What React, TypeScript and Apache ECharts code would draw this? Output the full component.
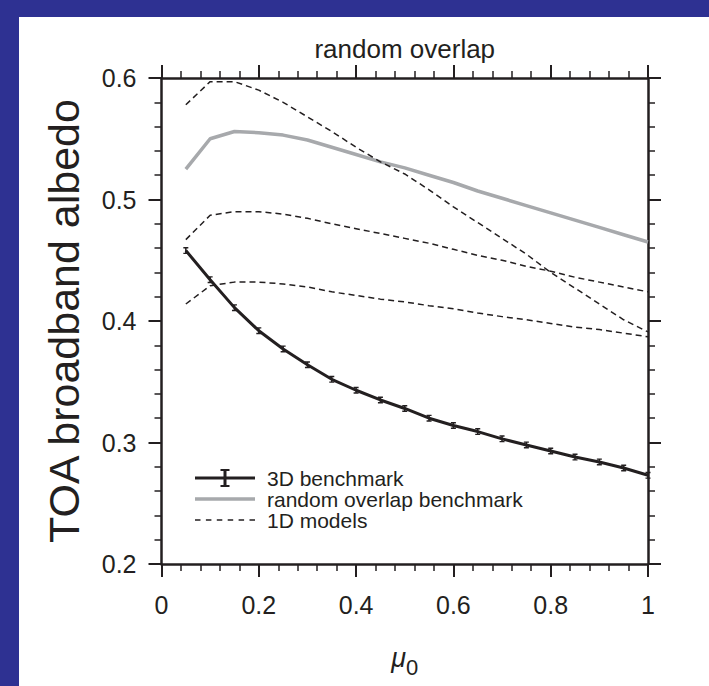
import React, { useEffect, useRef } from "react";
import * as echarts from "echarts";

// ---- data ----
const mu0 = [0.05, 0.1, 0.15, 0.2, 0.25, 0.3, 0.35, 0.4, 0.45, 0.5, 0.55, 0.6, 0.65, 0.7, 0.75, 0.8, 0.85, 0.9, 0.95, 1.0];
const bench3D = [0.458, 0.434, 0.411, 0.392, 0.377, 0.364, 0.352, 0.343, 0.335, 0.328, 0.32, 0.314, 0.309, 0.303, 0.298, 0.293, 0.288, 0.284, 0.279, 0.273];
const randomOverlapBench = [0.525, 0.55, 0.556, 0.555, 0.553, 0.549, 0.543, 0.537, 0.531, 0.526, 0.52, 0.514, 0.507, 0.501, 0.495, 0.489, 0.483, 0.477, 0.471, 0.465];
const model1D_a = [0.578, 0.597, 0.597, 0.59, 0.58, 0.568, 0.556, 0.543, 0.531, 0.521, 0.508, 0.494, 0.481, 0.468, 0.455, 0.44, 0.427, 0.414, 0.401, 0.391];
const model1D_b = [0.467, 0.487, 0.49, 0.49, 0.488, 0.4845, 0.48, 0.476, 0.472, 0.468, 0.464, 0.459, 0.454, 0.45, 0.445, 0.441, 0.436, 0.432, 0.428, 0.424];
const model1D_c = [0.414, 0.429, 0.432, 0.432, 0.4305, 0.428, 0.424, 0.421, 0.418, 0.4157, 0.4126, 0.41, 0.4066, 0.4036, 0.401, 0.398, 0.395, 0.393, 0.39, 0.387];

const xTicks = { min: 0, max: 1, interval: 0.2 };
const yTicks = { min: 0.2, max: 0.6, interval: 0.1 };
const titleText = "random overlap";
const yName = "TOA broadband albedo";
const legendNames = ["3D benchmark", "random overlap benchmark", "1D models"];

// ---- styles ----
const INK = "#231f20";
const GREY = "#a7a9ac";
const BLUE = "#2e3192";
const FONT = "'Liberation Sans', Arial, Helvetica, sans-serif";

const pair = (xs: number[], ys: number[]) => xs.map((x, i) => [x, ys[i]]);

// legend icons (67 x 18 box; drawn part 0..60, corner specks keep the box)
const specks = "M0,0H0.01V0.01H0ZM66.99,17.99H67V18H66.99Z";
const ICON_3D =
  "path://" +
  specks +
  "M0,7.5H28.5V2H25.5V0H34.5V2H31.5V7.5H60V10.5H31.5V16H34.5V18H25.5V16H28.5V10.5H0Z";
const ICON_RO = "path://" + specks + "M0,7.3H60V10.7H0Z";
const ICON_1D =
  "path://" +
  specks +
  [0, 1, 2, 3, 4, 5].map((i) => `M${i * 10.9},8.25H${i * 10.9 + 5.5}V9.75H${i * 10.9}Z`).join("");

const IBEAM = "path://M0,0H6V1.6H3.9V6.4H6V8H0V6.4H2.1V1.6H0Z";

const axisCommon = {
  axisLine: { show: true, onZero: false, lineStyle: { color: INK, width: 2.5 } },
  axisTick: { show: true, inside: false, length: 13, lineStyle: { color: INK, width: 2 } },
  minorTick: { show: true, splitNumber: 5, length: 7, lineStyle: { color: INK, width: 1.5 } },
  splitLine: { show: false },
  minorSplitLine: { show: false },
};

export default function App() {
  const ref = useRef<HTMLDivElement>(null);
  useEffect(() => {
    const chart = echarts.init(ref.current!, null, { renderer: "svg" });
    const option: any = {
      animation: false,
      backgroundColor: "#ffffff",
      textStyle: { fontFamily: FONT, color: INK },
      graphic: [
        { type: "rect", left: 0, top: 0, z: -10, silent: true, shape: { width: 19, height: 686 }, style: { fill: BLUE } },
        { type: "rect", left: 0, top: 0, z: -10, silent: true, shape: { width: 709, height: 17 }, style: { fill: BLUE } },
      ],
      grid: { left: 161.5, right: 61, top: 78, bottom: 122, containLabel: false },
      xAxis: [
        {
          type: "value",
          position: "bottom",
          ...xTicks,
          ...axisCommon,
          axisLabel: { fontSize: 25, color: INK, margin: 28, fontFamily: FONT },
          name: "{mu|μ}{sub|0}",
          nameLocation: "middle",
          nameGap: 80,
          nameTextStyle: {
            rich: {
              mu: { fontSize: 27, fontStyle: "italic", color: INK, fontFamily: FONT, verticalAlign: "top", lineHeight: 34 },
              sub: { fontSize: 22, color: INK, fontFamily: FONT, verticalAlign: "bottom", lineHeight: 34 },
            },
          },
        },
        {
          type: "value",
          position: "top",
          ...xTicks,
          ...axisCommon,
          axisLabel: { show: false },
          name: titleText,
          nameLocation: "middle",
          nameGap: 16,
          nameTextStyle: { fontSize: 26, color: INK, fontFamily: FONT },
        },
      ],
      yAxis: [
        {
          type: "value",
          position: "left",
          ...yTicks,
          ...axisCommon,
          axisLabel: { fontSize: 25, color: INK, margin: 25, fontFamily: FONT },
          name: yName,
          nameLocation: "middle",
          nameGap: 76,
          nameTextStyle: { fontSize: 43, color: INK, fontFamily: FONT, lineHeight: 43 },
        },
        {
          type: "value",
          position: "right",
          ...yTicks,
          ...axisCommon,
          axisLabel: { show: false },
        },
      ],
      legend: {
        orient: "vertical",
        left: 190,
        top: 461,
        itemWidth: 67,
        itemHeight: 18,
        itemGap: -3,
        selectedMode: false,
        textStyle: { fontSize: 21, color: INK, fontFamily: FONT, lineHeight: 24 },
        data: [
          { name: legendNames[0], icon: ICON_3D, itemStyle: { color: INK, borderWidth: 0 } },
          { name: legendNames[1], icon: ICON_RO, itemStyle: { color: GREY, borderWidth: 0 } },
          { name: legendNames[2], icon: ICON_1D, itemStyle: { color: INK, borderWidth: 0 } },
        ],
      },
      series: [
        {
          name: legendNames[1],
          type: "line",
          data: pair(mu0, randomOverlapBench),
          showSymbol: false,
          symbol: "none",
          lineStyle: { color: GREY, width: 3.5 },
          itemStyle: { color: GREY },
          z: 2,
        },
        ...[model1D_a, model1D_b, model1D_c].map((d) => ({
          name: legendNames[2],
          type: "line",
          data: pair(mu0, d),
          symbol: "none",
          lineStyle: { color: INK, width: 1.5, type: [6, 4] },
          itemStyle: { color: INK },
          z: 3,
        })),
        {
          name: legendNames[0],
          type: "line",
          data: pair(mu0, bench3D),
          symbol: IBEAM,
          symbolSize: [5, 7],
          lineStyle: { color: INK, width: 3 },
          itemStyle: { color: INK },
          z: 4,
        },
      ],
    };
    chart.setOption(option);
    return () => chart.dispose();
  }, []);
  return <div ref={ref} style={{ position: "fixed", left: 0, top: 0, width: 709, height: 686 }} />;
}
